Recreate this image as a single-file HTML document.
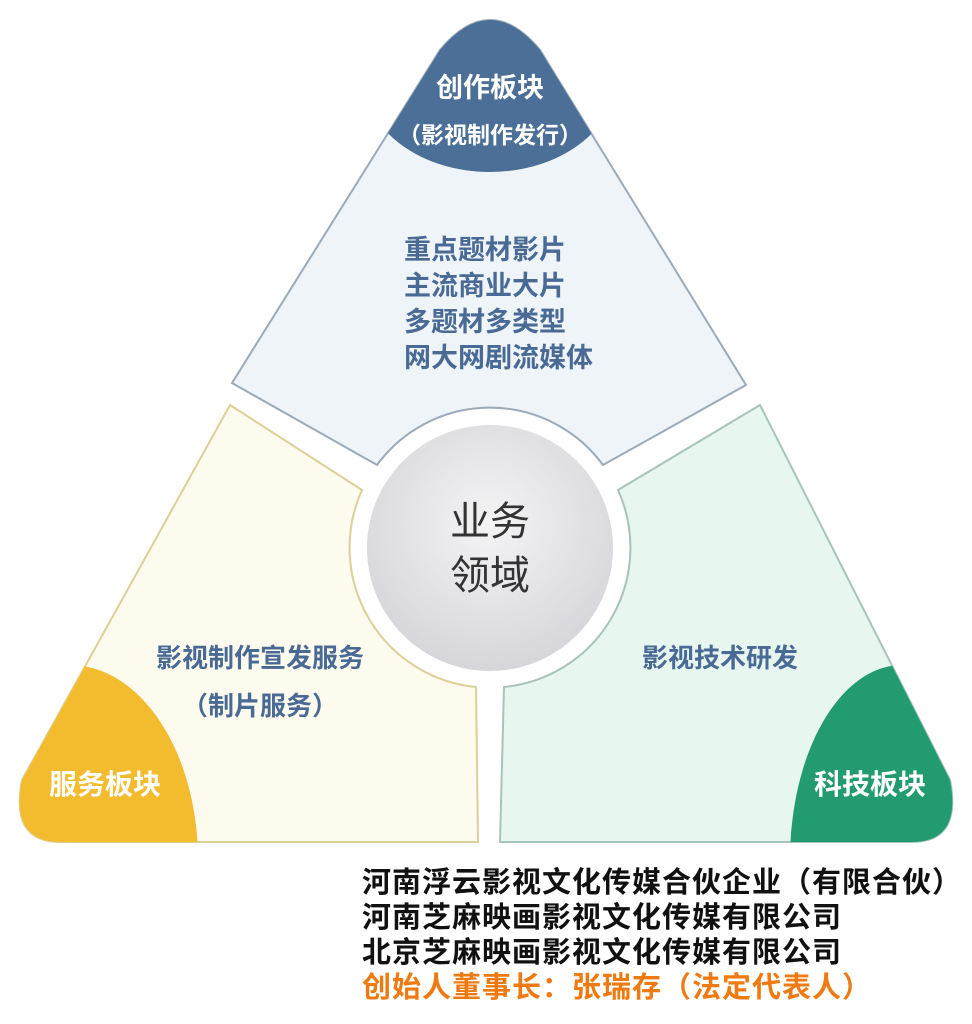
<!DOCTYPE html>
<html><head><meta charset="utf-8"><style>
html,body{margin:0;padding:0;background:#fff;}
body{width:972px;height:1024px;position:relative;overflow:hidden;font-family:"Liberation Sans","Noto Sans CJK SC",sans-serif;}
.t{position:absolute;white-space:nowrap;font-weight:bold;}
</style></head><body>
<svg width="972" height="1024" style="position:absolute;left:0;top:0">
<defs>
<radialGradient id="g" cx="0.5" cy="0.4" r="0.6"><stop offset="0" stop-color="#f4f4f5"/><stop offset="1" stop-color="#d6d6da"/></radialGradient>
<clipPath id="ct"><path d="M232,383 L440,50 Q490,-10 540,50 L746,385 L603,465 A140,140 0 0 0 377,465 Z"/></clipPath>
<clipPath id="cl"><path d="M230,405 L362,490 A140,140 0 0 0 476,687 L478,842 L60,842 Q10,842 22,780 Z"/></clipPath>
<clipPath id="cr"><path d="M760,405 L618,490 A140,140 0 0 1 504,687 L500,842 L912,842 Q962,842 950,780 Z"/></clipPath>
</defs>
<path d="M232,383 L440,50 Q490,-10 540,50 L746,385 L603,465 A140,140 0 0 0 377,465 Z" fill="#eef4f8" stroke="#9aaab8" stroke-width="2"/>
<g clip-path="url(#ct)"><ellipse cx="490" cy="80" rx="125" ry="92" fill="#4b6f97"/></g>
<path d="M230,405 L362,490 A140,140 0 0 0 476,687 L478,842 L60,842 Q10,842 22,780 Z" fill="#fdfbee" stroke="#dccf98" stroke-width="2"/>
<g clip-path="url(#cl)"><ellipse cx="70" cy="860" rx="128" ry="195" fill="#f3bb2e"/></g>
<path d="M760,405 L618,490 A140,140 0 0 1 504,687 L500,842 L912,842 Q962,842 950,780 Z" fill="#e8f6f0" stroke="#a7c4b8" stroke-width="2"/>
<g clip-path="url(#cr)"><ellipse cx="902" cy="860" rx="112" ry="195" fill="#239b70"/></g>
<circle cx="490" cy="548" r="123" fill="url(#g)"/>
</svg>
<div class="t" style="left:390px;top:66px;width:200px;text-align:center;color:#fff;font-size:27px;">创作板块</div>
<div class="t" style="left:380px;top:116px;width:220px;text-align:center;color:#fff;font-size:23px;">（影视制作发行）</div>
<div class="t" style="left:404px;top:232px;color:#4a6a96;font-size:27px;line-height:36px;">重点题材影片<br>主流商业大片<br>多题材多类型<br>网大网剧流媒体</div>
<div class="t" style="left:410px;top:495px;width:160px;text-align:center;color:#333;font-size:40px;font-weight:normal;line-height:54px;">业务<br>领域</div>
<div class="t" style="left:130px;top:638px;width:260px;text-align:center;color:#4a6a96;font-size:26px;">影视制作宣发服务</div>
<div class="t" style="left:160px;top:686px;width:200px;text-align:center;color:#4a6a96;font-size:26px;">（制片服务）</div>
<div class="t" style="left:610px;top:638px;width:220px;text-align:center;color:#4a6a96;font-size:26px;">影视技术研发</div>
<div class="t" style="left:35px;top:763px;width:140px;text-align:center;color:#fff;font-size:28px;">服务板块</div>
<div class="t" style="left:800px;top:763px;width:140px;text-align:center;color:#fff;font-size:28px;">科技板块</div>
<div class="t" style="left:362px;top:866px;color:#111;font-size:29px;line-height:35px;letter-spacing:1px;">河南浮云影视文化传媒合伙企业（有限合伙）<br>河南芝麻映画影视文化传媒有限公司<br>北京芝麻映画影视文化传媒有限公司<br><span style="color:#f07a12">创始人董事长：张瑞存（法定代表人）</span></div>
</body></html>
